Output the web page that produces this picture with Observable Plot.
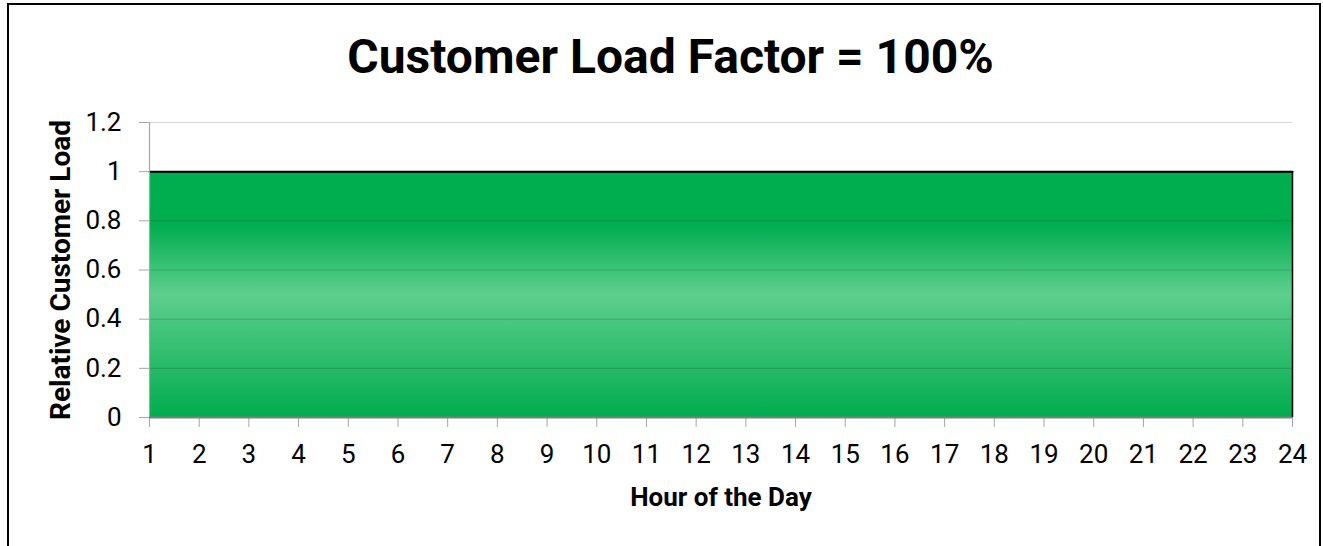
<!DOCTYPE html>
<html>
<head>
<meta charset="utf-8">
<script src="https://cdn.jsdelivr.net/npm/d3@7"></script>
<script src="https://cdn.jsdelivr.net/npm/@observablehq/plot@0.6"></script>
<style>
  html, body { margin: 0; padding: 0; background: #fff; }
  #wrap { position: relative; width: 1323px; height: 546px; overflow: hidden; font-family: Roboto, sans-serif; }
  #frame { position: absolute; left: 7px; top: 3px; width: 1314px; height: 700px; box-sizing: border-box; border: 2px solid #000; }
  #title { position: absolute; left: 0; width: 1341px; top: 33px; text-align: center; font-size: 48px; line-height: 48px; font-weight: 700; color: #000; }
  #chart { position: absolute; left: 0; top: 0; }
</style>
</head>
<body>
<div id="wrap">
  <div id="frame"></div>
  <div id="title">Customer Load Factor = 100%</div>
  <div id="chart"></div>
</div>
<script>
const hours = [1, 2, 3, 4, 5, 6, 7, 8, 9, 10, 11, 12, 13, 14, 15, 16, 17, 18, 19, 20, 21, 22, 23, 24];
const loads = [1, 1, 1, 1, 1, 1, 1, 1, 1, 1, 1, 1, 1, 1, 1, 1, 1, 1, 1, 1, 1, 1, 1, 1];
const yTicks = [0, 0.2, 0.4, 0.6, 0.8, 1, 1.2];
const yTickLabels = ["0", "0.2", "0.4", "0.6", "0.8", "1", "1.2"];
const xTitle = "Hour of the Day";
const yTitle = "Relative Customer Load";

const data = hours.map((h, i) => ({hour: h, load: loads[i]}));
const lastHour = hours[hours.length - 1];
const maxLoad = d3.max(loads);

function gradientDefs() {
  const ns = "http://www.w3.org/2000/svg";
  const defs = document.createElementNS(ns, "defs");
  const g = document.createElementNS(ns, "linearGradient");
  g.setAttribute("id", "loadGrad");
  g.setAttribute("x1", "0"); g.setAttribute("y1", "0");
  g.setAttribute("x2", "0"); g.setAttribute("y2", "1");
  [[0, "#00ad4f"], [0.22, "#00ad4f"], [0.5, "#5ecf8e"], [1, "#00ac4e"]].forEach(([o, c]) => {
    const s = document.createElementNS(ns, "stop");
    s.setAttribute("offset", o);
    s.setAttribute("stop-color", c);
    g.appendChild(s);
  });
  defs.appendChild(g);
  return defs;
}

const chart = Plot.plot({
  width: 1323,
  height: 546,
  marginLeft: 149,
  marginRight: 31,
  marginTop: 122,
  marginBottom: 129,
  style: {fontFamily: "Roboto, sans-serif", fontSize: "26px", background: "transparent", color: "#000", overflow: "visible"},
  x: {type: "linear", domain: [1, 24]},
  y: {type: "linear", domain: [0, 1.2]},
  marks: [
    gradientDefs,
    Plot.areaY(data, {x: "hour", y: "load", fill: "url(#loadGrad)"}),
    Plot.ruleY(yTicks.slice(1), {stroke: "#000", strokeOpacity: 0.16}),
    Plot.lineY(data, {x: "hour", y: "load", stroke: "#000", strokeWidth: 2}),
    Plot.ruleX([lastHour], {y1: 0, y2: maxLoad, stroke: "#000", strokeWidth: 1.5}),
    Plot.ruleX([hours[0]], {stroke: "#a6a6a6", strokeWidth: 1.2}),
    Plot.axisY(yTicks, {tickSize: 10, tickPadding: 18, stroke: "#a6a6a6", fill: "#000", label: null, fontSize: 26,
      tickFormat: d => yTickLabels[yTicks.indexOf(d)]}),
    Plot.axisX(hours, {tickSize: 10, tickPadding: 17, stroke: "#a6a6a6", fill: "#000", label: null, fontSize: 26, tickFormat: d => String(d)}),
    Plot.ruleY([0], {stroke: "#7f7f7f", strokeWidth: 2}),
    Plot.text([xTitle], {frameAnchor: "bottom", lineAnchor: "middle", textAnchor: "middle", dy: 80, fontWeight: "bold", fontSize: 26, fill: "#000"}),
    Plot.text([yTitle], {frameAnchor: "left", lineAnchor: "middle", textAnchor: "middle", rotate: -90, dx: -88, fontWeight: "bold", fontSize: 28, fill: "#000"})
  ]
});
document.getElementById("chart").appendChild(chart);
</script>
</body>
</html>
